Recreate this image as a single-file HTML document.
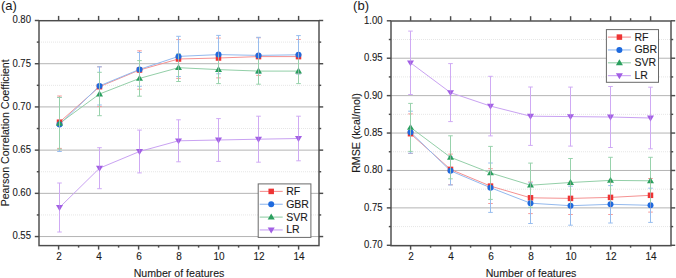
<!DOCTYPE html>
<html><head><meta charset="utf-8"><style>
html,body{margin:0;padding:0;background:#fff;}
svg{display:block;font-family:"Liberation Sans", sans-serif;}
text{fill:#1a1a1a;stroke:#1a1a1a;stroke-width:0.1px;}
</style></head><body>
<svg width="676" height="278" viewBox="0 0 676 278">
<rect width="676" height="278" fill="#fff"/>
<line x1="39" y1="214.95" x2="319" y2="214.95" stroke="#e6e6e6" stroke-width="1.0" stroke-dasharray="1 1"/>
<line x1="39" y1="171.74" x2="319" y2="171.74" stroke="#e6e6e6" stroke-width="1.0" stroke-dasharray="1 1"/>
<line x1="39" y1="128.53" x2="319" y2="128.53" stroke="#e6e6e6" stroke-width="1.0" stroke-dasharray="1 1"/>
<line x1="39" y1="85.32" x2="319" y2="85.32" stroke="#e6e6e6" stroke-width="1.0" stroke-dasharray="1 1"/>
<line x1="39" y1="42.11" x2="319" y2="42.11" stroke="#e6e6e6" stroke-width="1.0" stroke-dasharray="1 1"/>
<line x1="39" y1="236.56" x2="319" y2="236.56" stroke="#b4b4b4" stroke-width="1.0"/>
<line x1="39" y1="193.35" x2="319" y2="193.35" stroke="#b4b4b4" stroke-width="1.0"/>
<line x1="39" y1="150.13" x2="319" y2="150.13" stroke="#b4b4b4" stroke-width="1.0"/>
<line x1="39" y1="106.92" x2="319" y2="106.92" stroke="#b4b4b4" stroke-width="1.0"/>
<line x1="39" y1="63.71" x2="319" y2="63.71" stroke="#b4b4b4" stroke-width="1.0"/>
<path d="M59.50 96.00V148.40M57.20 96.00H61.80M57.20 148.40H61.80" fill="none" stroke="#f59a9a" stroke-width="1.0"/>
<path d="M99.50 66.80V106.60M97.20 66.80H101.80M97.20 106.60H101.80" fill="none" stroke="#f59a9a" stroke-width="1.0"/>
<path d="M139.50 50.80V89.20M137.20 50.80H141.80M137.20 89.20H141.80" fill="none" stroke="#f59a9a" stroke-width="1.0"/>
<path d="M178.50 39.60V78.40M176.20 39.60H180.80M176.20 78.40H180.80" fill="none" stroke="#f59a9a" stroke-width="1.0"/>
<path d="M218.50 38.10V77.90M216.20 38.10H220.80M216.20 77.90H220.80" fill="none" stroke="#f59a9a" stroke-width="1.0"/>
<path d="M258.50 37.80V75.40M256.20 37.80H260.80M256.20 75.40H260.80" fill="none" stroke="#f59a9a" stroke-width="1.0"/>
<path d="M298.50 39.50V73.70M296.20 39.50H300.80M296.20 73.70H300.80" fill="none" stroke="#f59a9a" stroke-width="1.0"/>
<path d="M59.50 97.50V151.50M57.20 97.50H61.80M57.20 151.50H61.80" fill="none" stroke="#98bdee" stroke-width="1.0"/>
<path d="M99.50 66.80V105.00M97.20 66.80H101.80M97.20 105.00H101.80" fill="none" stroke="#98bdee" stroke-width="1.0"/>
<path d="M139.50 52.50V86.30M137.20 52.50H141.80M137.20 86.30H141.80" fill="none" stroke="#98bdee" stroke-width="1.0"/>
<path d="M178.50 36.30V76.50M176.20 36.30H180.80M176.20 76.50H180.80" fill="none" stroke="#98bdee" stroke-width="1.0"/>
<path d="M218.50 35.40V73.80M216.20 35.40H220.80M216.20 73.80H220.80" fill="none" stroke="#98bdee" stroke-width="1.0"/>
<path d="M258.50 37.30V73.50M256.20 37.30H260.80M256.20 73.50H260.80" fill="none" stroke="#98bdee" stroke-width="1.0"/>
<path d="M298.50 35.60V74.00M296.20 35.60H300.80M296.20 74.00H300.80" fill="none" stroke="#98bdee" stroke-width="1.0"/>
<path d="M59.50 97.40V149.20M57.20 97.40H61.80M57.20 149.20H61.80" fill="none" stroke="#98d2ac" stroke-width="1.0"/>
<path d="M99.50 72.30V115.70M97.20 72.30H101.80M97.20 115.70H101.80" fill="none" stroke="#98d2ac" stroke-width="1.0"/>
<path d="M139.50 60.60V96.20M137.20 60.60H141.80M137.20 96.20H141.80" fill="none" stroke="#98d2ac" stroke-width="1.0"/>
<path d="M178.50 53.90V81.50M176.20 53.90H180.80M176.20 81.50H180.80" fill="none" stroke="#98d2ac" stroke-width="1.0"/>
<path d="M218.50 55.60V83.60M216.20 55.60H220.80M216.20 83.60H220.80" fill="none" stroke="#98d2ac" stroke-width="1.0"/>
<path d="M258.50 58.00V84.20M256.20 58.00H260.80M256.20 84.20H260.80" fill="none" stroke="#98d2ac" stroke-width="1.0"/>
<path d="M298.50 58.60V83.60M296.20 58.60H300.80M296.20 83.60H300.80" fill="none" stroke="#98d2ac" stroke-width="1.0"/>
<path d="M59.50 183.00V232.00M57.20 183.00H61.80M57.20 232.00H61.80" fill="none" stroke="#cfaaf4" stroke-width="1.0"/>
<path d="M99.50 147.70V188.70M97.20 147.70H101.80M97.20 188.70H101.80" fill="none" stroke="#cfaaf4" stroke-width="1.0"/>
<path d="M139.50 130.10V172.90M137.20 130.10H141.80M137.20 172.90H141.80" fill="none" stroke="#cfaaf4" stroke-width="1.0"/>
<path d="M178.50 119.80V161.80M176.20 119.80H180.80M176.20 161.80H180.80" fill="none" stroke="#cfaaf4" stroke-width="1.0"/>
<path d="M218.50 118.60V161.40M216.20 118.60H220.80M216.20 161.40H220.80" fill="none" stroke="#cfaaf4" stroke-width="1.0"/>
<path d="M258.50 116.20V162.20M256.20 116.20H260.80M256.20 162.20H260.80" fill="none" stroke="#cfaaf4" stroke-width="1.0"/>
<path d="M298.50 116.20V160.80M296.20 116.20H300.80M296.20 160.80H300.80" fill="none" stroke="#cfaaf4" stroke-width="1.0"/>
<polyline points="59.50,122.20 99.50,86.70 139.50,70.00 178.50,59.00 218.50,58.00 258.50,56.60 298.50,56.60" fill="none" stroke="#f59292" stroke-width="1.0"/>
<polyline points="59.50,124.50 99.50,85.90 139.50,69.40 178.50,56.40 218.50,54.60 258.50,55.40 298.50,54.80" fill="none" stroke="#93b9ee" stroke-width="1.0"/>
<polyline points="59.50,123.30 99.50,94.00 139.50,78.40 178.50,67.70 218.50,69.60 258.50,71.10 298.50,71.10" fill="none" stroke="#93cfa8" stroke-width="1.0"/>
<polyline points="59.50,207.50 99.50,168.20 139.50,151.50 178.50,140.80 218.50,140.00 258.50,139.20 298.50,138.50" fill="none" stroke="#c9a2f2" stroke-width="1.0"/>
<rect x="56.75" y="119.45" width="5.5" height="5.5" fill="#ee3434"/>
<rect x="96.75" y="83.95" width="5.5" height="5.5" fill="#ee3434"/>
<rect x="136.75" y="67.25" width="5.5" height="5.5" fill="#ee3434"/>
<rect x="175.75" y="56.25" width="5.5" height="5.5" fill="#ee3434"/>
<rect x="215.75" y="55.25" width="5.5" height="5.5" fill="#ee3434"/>
<rect x="255.75" y="53.85" width="5.5" height="5.5" fill="#ee3434"/>
<rect x="295.75" y="53.85" width="5.5" height="5.5" fill="#ee3434"/>
<circle cx="59.50" cy="124.50" r="3.0" fill="#1e6ade"/>
<circle cx="99.50" cy="85.90" r="3.0" fill="#1e6ade"/>
<circle cx="139.50" cy="69.40" r="3.0" fill="#1e6ade"/>
<circle cx="178.50" cy="56.40" r="3.0" fill="#1e6ade"/>
<circle cx="218.50" cy="54.60" r="3.0" fill="#1e6ade"/>
<circle cx="258.50" cy="55.40" r="3.0" fill="#1e6ade"/>
<circle cx="298.50" cy="54.80" r="3.0" fill="#1e6ade"/>
<polygon points="56.00,125.70 63.00,125.70 59.50,119.80" fill="#2a9f5e"/>
<polygon points="96.00,96.40 103.00,96.40 99.50,90.50" fill="#2a9f5e"/>
<polygon points="136.00,80.80 143.00,80.80 139.50,74.90" fill="#2a9f5e"/>
<polygon points="175.00,70.10 182.00,70.10 178.50,64.20" fill="#2a9f5e"/>
<polygon points="215.00,72.00 222.00,72.00 218.50,66.10" fill="#2a9f5e"/>
<polygon points="255.00,73.50 262.00,73.50 258.50,67.60" fill="#2a9f5e"/>
<polygon points="295.00,73.50 302.00,73.50 298.50,67.60" fill="#2a9f5e"/>
<polygon points="56.00,205.10 63.00,205.10 59.50,211.00" fill="#a25fe4"/>
<polygon points="96.00,165.80 103.00,165.80 99.50,171.70" fill="#a25fe4"/>
<polygon points="136.00,149.10 143.00,149.10 139.50,155.00" fill="#a25fe4"/>
<polygon points="175.00,138.40 182.00,138.40 178.50,144.30" fill="#a25fe4"/>
<polygon points="215.00,137.60 222.00,137.60 218.50,143.50" fill="#a25fe4"/>
<polygon points="255.00,136.80 262.00,136.80 258.50,142.70" fill="#a25fe4"/>
<polygon points="295.00,136.10 302.00,136.10 298.50,142.00" fill="#a25fe4"/>
<path d="M59.50 118.60V125.80" stroke="#f59a9a" stroke-width="1.0" opacity="0.35"/>
<path d="M59.50 120.90V128.10" stroke="#f59a9a" stroke-width="1.0" opacity="0.35"/>
<path d="M59.50 119.70V126.90" stroke="#f59a9a" stroke-width="1.0" opacity="0.35"/>
<path d="M99.50 83.10V90.30" stroke="#f59a9a" stroke-width="1.0" opacity="0.35"/>
<path d="M99.50 82.30V89.50" stroke="#f59a9a" stroke-width="1.0" opacity="0.35"/>
<path d="M99.50 90.40V97.60" stroke="#f59a9a" stroke-width="1.0" opacity="0.35"/>
<path d="M139.50 66.40V73.60" stroke="#f59a9a" stroke-width="1.0" opacity="0.35"/>
<path d="M139.50 65.80V73.00" stroke="#f59a9a" stroke-width="1.0" opacity="0.35"/>
<path d="M139.50 74.80V82.00" stroke="#f59a9a" stroke-width="1.0" opacity="0.35"/>
<path d="M178.50 55.40V62.60" stroke="#f59a9a" stroke-width="1.0" opacity="0.35"/>
<path d="M178.50 52.80V60.00" stroke="#f59a9a" stroke-width="1.0" opacity="0.35"/>
<path d="M178.50 64.10V71.30" stroke="#f59a9a" stroke-width="1.0" opacity="0.35"/>
<path d="M218.50 54.40V61.60" stroke="#f59a9a" stroke-width="1.0" opacity="0.35"/>
<path d="M218.50 51.00V58.20" stroke="#f59a9a" stroke-width="1.0" opacity="0.35"/>
<path d="M218.50 66.00V73.20" stroke="#f59a9a" stroke-width="1.0" opacity="0.35"/>
<path d="M258.50 53.00V60.20" stroke="#f59a9a" stroke-width="1.0" opacity="0.35"/>
<path d="M258.50 51.80V59.00" stroke="#f59a9a" stroke-width="1.0" opacity="0.35"/>
<path d="M258.50 67.50V74.70" stroke="#f59a9a" stroke-width="1.0" opacity="0.35"/>
<path d="M298.50 53.00V60.20" stroke="#f59a9a" stroke-width="1.0" opacity="0.35"/>
<path d="M298.50 51.20V58.40" stroke="#f59a9a" stroke-width="1.0" opacity="0.35"/>
<path d="M298.50 67.50V73.70" stroke="#f59a9a" stroke-width="1.0" opacity="0.35"/>
<path d="M59.50 118.60V125.80" stroke="#98bdee" stroke-width="1.0" opacity="0.35"/>
<path d="M59.50 120.90V128.10" stroke="#98bdee" stroke-width="1.0" opacity="0.35"/>
<path d="M59.50 119.70V126.90" stroke="#98bdee" stroke-width="1.0" opacity="0.35"/>
<path d="M99.50 83.10V90.30" stroke="#98bdee" stroke-width="1.0" opacity="0.35"/>
<path d="M99.50 82.30V89.50" stroke="#98bdee" stroke-width="1.0" opacity="0.35"/>
<path d="M99.50 90.40V97.60" stroke="#98bdee" stroke-width="1.0" opacity="0.35"/>
<path d="M139.50 66.40V73.60" stroke="#98bdee" stroke-width="1.0" opacity="0.35"/>
<path d="M139.50 65.80V73.00" stroke="#98bdee" stroke-width="1.0" opacity="0.35"/>
<path d="M139.50 74.80V82.00" stroke="#98bdee" stroke-width="1.0" opacity="0.35"/>
<path d="M178.50 55.40V62.60" stroke="#98bdee" stroke-width="1.0" opacity="0.35"/>
<path d="M178.50 52.80V60.00" stroke="#98bdee" stroke-width="1.0" opacity="0.35"/>
<path d="M178.50 64.10V71.30" stroke="#98bdee" stroke-width="1.0" opacity="0.35"/>
<path d="M218.50 54.40V61.60" stroke="#98bdee" stroke-width="1.0" opacity="0.35"/>
<path d="M218.50 51.00V58.20" stroke="#98bdee" stroke-width="1.0" opacity="0.35"/>
<path d="M218.50 66.00V73.20" stroke="#98bdee" stroke-width="1.0" opacity="0.35"/>
<path d="M258.50 53.00V60.20" stroke="#98bdee" stroke-width="1.0" opacity="0.35"/>
<path d="M258.50 51.80V59.00" stroke="#98bdee" stroke-width="1.0" opacity="0.35"/>
<path d="M258.50 67.50V73.50" stroke="#98bdee" stroke-width="1.0" opacity="0.35"/>
<path d="M298.50 53.00V60.20" stroke="#98bdee" stroke-width="1.0" opacity="0.35"/>
<path d="M298.50 51.20V58.40" stroke="#98bdee" stroke-width="1.0" opacity="0.35"/>
<path d="M298.50 67.50V74.00" stroke="#98bdee" stroke-width="1.0" opacity="0.35"/>
<path d="M59.50 118.60V125.80" stroke="#98d2ac" stroke-width="1.0" opacity="0.35"/>
<path d="M59.50 120.90V128.10" stroke="#98d2ac" stroke-width="1.0" opacity="0.35"/>
<path d="M59.50 119.70V126.90" stroke="#98d2ac" stroke-width="1.0" opacity="0.35"/>
<path d="M99.50 83.10V90.30" stroke="#98d2ac" stroke-width="1.0" opacity="0.35"/>
<path d="M99.50 82.30V89.50" stroke="#98d2ac" stroke-width="1.0" opacity="0.35"/>
<path d="M99.50 90.40V97.60" stroke="#98d2ac" stroke-width="1.0" opacity="0.35"/>
<path d="M139.50 66.40V73.60" stroke="#98d2ac" stroke-width="1.0" opacity="0.35"/>
<path d="M139.50 65.80V73.00" stroke="#98d2ac" stroke-width="1.0" opacity="0.35"/>
<path d="M139.50 74.80V82.00" stroke="#98d2ac" stroke-width="1.0" opacity="0.35"/>
<path d="M178.50 55.40V62.60" stroke="#98d2ac" stroke-width="1.0" opacity="0.35"/>
<path d="M178.50 53.90V60.00" stroke="#98d2ac" stroke-width="1.0" opacity="0.35"/>
<path d="M178.50 64.10V71.30" stroke="#98d2ac" stroke-width="1.0" opacity="0.35"/>
<path d="M218.50 55.60V61.60" stroke="#98d2ac" stroke-width="1.0" opacity="0.35"/>
<path d="M218.50 55.60V58.20" stroke="#98d2ac" stroke-width="1.0" opacity="0.35"/>
<path d="M218.50 66.00V73.20" stroke="#98d2ac" stroke-width="1.0" opacity="0.35"/>
<path d="M258.50 58.00V60.20" stroke="#98d2ac" stroke-width="1.0" opacity="0.35"/>
<path d="M258.50 58.00V59.00" stroke="#98d2ac" stroke-width="1.0" opacity="0.35"/>
<path d="M258.50 67.50V74.70" stroke="#98d2ac" stroke-width="1.0" opacity="0.35"/>
<path d="M298.50 58.60V60.20" stroke="#98d2ac" stroke-width="1.0" opacity="0.35"/>
<path d="M298.50 67.50V74.70" stroke="#98d2ac" stroke-width="1.0" opacity="0.35"/>
<path d="M59.50 203.90V211.10" stroke="#cfaaf4" stroke-width="1.0" opacity="0.35"/>
<path d="M99.50 164.60V171.80" stroke="#cfaaf4" stroke-width="1.0" opacity="0.35"/>
<path d="M139.50 147.90V155.10" stroke="#cfaaf4" stroke-width="1.0" opacity="0.35"/>
<path d="M178.50 137.20V144.40" stroke="#cfaaf4" stroke-width="1.0" opacity="0.35"/>
<path d="M218.50 136.40V143.60" stroke="#cfaaf4" stroke-width="1.0" opacity="0.35"/>
<path d="M258.50 135.60V142.80" stroke="#cfaaf4" stroke-width="1.0" opacity="0.35"/>
<path d="M298.50 134.90V142.10" stroke="#cfaaf4" stroke-width="1.0" opacity="0.35"/>
<rect x="39" y="20.70" width="280" height="224.90" fill="none" stroke="#4c4c4c" stroke-width="1.45"/>
<line x1="58.60" y1="245.6" x2="58.60" y2="249.6" stroke="#4c4c4c" stroke-width="1.45"/>
<line x1="58.60" y1="20.5" x2="58.60" y2="15.90" stroke="#4c4c4c" stroke-width="1.45"/>
<line x1="78.60" y1="245.6" x2="78.60" y2="247.6" stroke="#4c4c4c" stroke-width="1.45"/>
<line x1="78.60" y1="20.5" x2="78.60" y2="17.90" stroke="#4c4c4c" stroke-width="1.45"/>
<line x1="98.60" y1="245.6" x2="98.60" y2="249.6" stroke="#4c4c4c" stroke-width="1.45"/>
<line x1="98.60" y1="20.5" x2="98.60" y2="15.90" stroke="#4c4c4c" stroke-width="1.45"/>
<line x1="118.60" y1="245.6" x2="118.60" y2="247.6" stroke="#4c4c4c" stroke-width="1.45"/>
<line x1="118.60" y1="20.5" x2="118.60" y2="17.90" stroke="#4c4c4c" stroke-width="1.45"/>
<line x1="138.60" y1="245.6" x2="138.60" y2="249.6" stroke="#4c4c4c" stroke-width="1.45"/>
<line x1="138.60" y1="20.5" x2="138.60" y2="15.90" stroke="#4c4c4c" stroke-width="1.45"/>
<line x1="158.60" y1="245.6" x2="158.60" y2="247.6" stroke="#4c4c4c" stroke-width="1.45"/>
<line x1="158.60" y1="20.5" x2="158.60" y2="17.90" stroke="#4c4c4c" stroke-width="1.45"/>
<line x1="178.60" y1="245.6" x2="178.60" y2="249.6" stroke="#4c4c4c" stroke-width="1.45"/>
<line x1="178.60" y1="20.5" x2="178.60" y2="15.90" stroke="#4c4c4c" stroke-width="1.45"/>
<line x1="198.60" y1="245.6" x2="198.60" y2="247.6" stroke="#4c4c4c" stroke-width="1.45"/>
<line x1="198.60" y1="20.5" x2="198.60" y2="17.90" stroke="#4c4c4c" stroke-width="1.45"/>
<line x1="218.60" y1="245.6" x2="218.60" y2="249.6" stroke="#4c4c4c" stroke-width="1.45"/>
<line x1="218.60" y1="20.5" x2="218.60" y2="15.90" stroke="#4c4c4c" stroke-width="1.45"/>
<line x1="238.60" y1="245.6" x2="238.60" y2="247.6" stroke="#4c4c4c" stroke-width="1.45"/>
<line x1="238.60" y1="20.5" x2="238.60" y2="17.90" stroke="#4c4c4c" stroke-width="1.45"/>
<line x1="258.60" y1="245.6" x2="258.60" y2="249.6" stroke="#4c4c4c" stroke-width="1.45"/>
<line x1="258.60" y1="20.5" x2="258.60" y2="15.90" stroke="#4c4c4c" stroke-width="1.45"/>
<line x1="278.60" y1="245.6" x2="278.60" y2="247.6" stroke="#4c4c4c" stroke-width="1.45"/>
<line x1="278.60" y1="20.5" x2="278.60" y2="17.90" stroke="#4c4c4c" stroke-width="1.45"/>
<line x1="298.60" y1="245.6" x2="298.60" y2="249.6" stroke="#4c4c4c" stroke-width="1.45"/>
<line x1="298.60" y1="20.5" x2="298.60" y2="15.90" stroke="#4c4c4c" stroke-width="1.45"/>
<line x1="34.8" y1="236.56" x2="39" y2="236.56" stroke="#4c4c4c" stroke-width="1.45"/>
<line x1="319" y1="236.56" x2="323.2" y2="236.56" stroke="#4c4c4c" stroke-width="1.45"/>
<line x1="34.8" y1="193.35" x2="39" y2="193.35" stroke="#4c4c4c" stroke-width="1.45"/>
<line x1="319" y1="193.35" x2="323.2" y2="193.35" stroke="#4c4c4c" stroke-width="1.45"/>
<line x1="34.8" y1="150.13" x2="39" y2="150.13" stroke="#4c4c4c" stroke-width="1.45"/>
<line x1="319" y1="150.13" x2="323.2" y2="150.13" stroke="#4c4c4c" stroke-width="1.45"/>
<line x1="34.8" y1="106.92" x2="39" y2="106.92" stroke="#4c4c4c" stroke-width="1.45"/>
<line x1="319" y1="106.92" x2="323.2" y2="106.92" stroke="#4c4c4c" stroke-width="1.45"/>
<line x1="34.8" y1="63.71" x2="39" y2="63.71" stroke="#4c4c4c" stroke-width="1.45"/>
<line x1="319" y1="63.71" x2="323.2" y2="63.71" stroke="#4c4c4c" stroke-width="1.45"/>
<line x1="34.8" y1="20.50" x2="39" y2="20.50" stroke="#4c4c4c" stroke-width="1.45"/>
<line x1="319" y1="20.50" x2="323.2" y2="20.50" stroke="#4c4c4c" stroke-width="1.45"/>
<line x1="36.8" y1="214.95" x2="39" y2="214.95" stroke="#4c4c4c" stroke-width="1.45"/>
<line x1="319" y1="214.95" x2="321.2" y2="214.95" stroke="#4c4c4c" stroke-width="1.45"/>
<line x1="36.8" y1="171.74" x2="39" y2="171.74" stroke="#4c4c4c" stroke-width="1.45"/>
<line x1="319" y1="171.74" x2="321.2" y2="171.74" stroke="#4c4c4c" stroke-width="1.45"/>
<line x1="36.8" y1="128.53" x2="39" y2="128.53" stroke="#4c4c4c" stroke-width="1.45"/>
<line x1="319" y1="128.53" x2="321.2" y2="128.53" stroke="#4c4c4c" stroke-width="1.45"/>
<line x1="36.8" y1="85.32" x2="39" y2="85.32" stroke="#4c4c4c" stroke-width="1.45"/>
<line x1="319" y1="85.32" x2="321.2" y2="85.32" stroke="#4c4c4c" stroke-width="1.45"/>
<line x1="36.8" y1="42.11" x2="39" y2="42.11" stroke="#4c4c4c" stroke-width="1.45"/>
<line x1="319" y1="42.11" x2="321.2" y2="42.11" stroke="#4c4c4c" stroke-width="1.45"/>
<text x="31.0" y="239.46" text-anchor="end" font-size="10" textLength="18.6" lengthAdjust="spacingAndGlyphs">0.55</text>
<text x="31.0" y="196.25" text-anchor="end" font-size="10" textLength="18.6" lengthAdjust="spacingAndGlyphs">0.60</text>
<text x="31.0" y="153.03" text-anchor="end" font-size="10" textLength="18.6" lengthAdjust="spacingAndGlyphs">0.65</text>
<text x="31.0" y="109.82" text-anchor="end" font-size="10" textLength="18.6" lengthAdjust="spacingAndGlyphs">0.70</text>
<text x="31.0" y="66.61" text-anchor="end" font-size="10" textLength="18.6" lengthAdjust="spacingAndGlyphs">0.75</text>
<text x="31.0" y="23.40" text-anchor="end" font-size="10" textLength="18.6" lengthAdjust="spacingAndGlyphs">0.80</text>
<text x="59.00" y="260.2" text-anchor="middle" font-size="10">2</text>
<text x="99.00" y="260.2" text-anchor="middle" font-size="10">4</text>
<text x="139.00" y="260.2" text-anchor="middle" font-size="10">6</text>
<text x="179.00" y="260.2" text-anchor="middle" font-size="10">8</text>
<text x="219.00" y="260.2" text-anchor="middle" font-size="10">10</text>
<text x="259.00" y="260.2" text-anchor="middle" font-size="10">12</text>
<text x="299.00" y="260.2" text-anchor="middle" font-size="10">14</text>
<text x="179.00" y="277.1" text-anchor="middle" font-size="10.6">Number of features</text>
<text transform="translate(8.8,132.85) rotate(-90)" x="0" y="0" text-anchor="middle" font-size="10.6">Pearson Correlation Coefficient</text>
<text x="0.9" y="9.7" font-size="13.0" style="stroke-width:0">(a)</text>
<rect x="258.2" y="183.9" width="52.7" height="53.5" fill="#fff" stroke="#6a6a6a" stroke-width="1"/>
<line x1="259.7" y1="191.40" x2="282.7" y2="191.40" stroke="#f59292" stroke-width="1.1"/>
<rect x="268.45" y="188.65" width="5.5" height="5.5" fill="#ee3434"/>
<text x="286.2" y="194.90" font-size="10.5">RF</text>
<line x1="259.7" y1="204.25" x2="282.7" y2="204.25" stroke="#93b9ee" stroke-width="1.1"/>
<circle cx="271.20" cy="204.25" r="3.0" fill="#1e6ade"/>
<text x="286.2" y="207.75" font-size="10.5">GBR</text>
<line x1="259.7" y1="217.10" x2="282.7" y2="217.10" stroke="#93cfa8" stroke-width="1.1"/>
<polygon points="267.70,219.50 274.70,219.50 271.20,213.60" fill="#2a9f5e"/>
<text x="286.2" y="220.60" font-size="10.5">SVR</text>
<line x1="259.7" y1="229.95" x2="282.7" y2="229.95" stroke="#c9a2f2" stroke-width="1.1"/>
<polygon points="267.70,227.55 274.70,227.55 271.20,233.45" fill="#a25fe4"/>
<text x="286.2" y="233.45" font-size="10.5">LR</text>
<line x1="391" y1="226.59" x2="671" y2="226.59" stroke="#e6e6e6" stroke-width="1.0" stroke-dasharray="1 1"/>
<line x1="391" y1="189.17" x2="671" y2="189.17" stroke="#e6e6e6" stroke-width="1.0" stroke-dasharray="1 1"/>
<line x1="391" y1="151.76" x2="671" y2="151.76" stroke="#e6e6e6" stroke-width="1.0" stroke-dasharray="1 1"/>
<line x1="391" y1="114.34" x2="671" y2="114.34" stroke="#e6e6e6" stroke-width="1.0" stroke-dasharray="1 1"/>
<line x1="391" y1="76.92" x2="671" y2="76.92" stroke="#e6e6e6" stroke-width="1.0" stroke-dasharray="1 1"/>
<line x1="391" y1="39.51" x2="671" y2="39.51" stroke="#e6e6e6" stroke-width="1.0" stroke-dasharray="1 1"/>
<line x1="391" y1="245.30" x2="671" y2="245.30" stroke="#b4b4b4" stroke-width="1.0"/>
<line x1="391" y1="207.88" x2="671" y2="207.88" stroke="#b4b4b4" stroke-width="1.0"/>
<line x1="391" y1="170.47" x2="671" y2="170.47" stroke="#b4b4b4" stroke-width="1.0"/>
<line x1="391" y1="133.05" x2="671" y2="133.05" stroke="#b4b4b4" stroke-width="1.0"/>
<line x1="391" y1="95.63" x2="671" y2="95.63" stroke="#b4b4b4" stroke-width="1.0"/>
<line x1="391" y1="58.22" x2="671" y2="58.22" stroke="#b4b4b4" stroke-width="1.0"/>
<path d="M410.50 113.90V153.50M408.20 113.90H412.80M408.20 153.50H412.80" fill="none" stroke="#f59a9a" stroke-width="1.0"/>
<path d="M450.50 154.10V184.70M448.20 154.10H452.80M448.20 184.70H452.80" fill="none" stroke="#f59a9a" stroke-width="1.0"/>
<path d="M490.50 168.70V203.50M488.20 168.70H492.80M488.20 203.50H492.80" fill="none" stroke="#f59a9a" stroke-width="1.0"/>
<path d="M530.50 182.00V213.60M528.20 182.00H532.80M528.20 213.60H532.80" fill="none" stroke="#f59a9a" stroke-width="1.0"/>
<path d="M570.50 182.30V214.50M568.20 182.30H572.80M568.20 214.50H572.80" fill="none" stroke="#f59a9a" stroke-width="1.0"/>
<path d="M610.50 180.30V214.50M608.20 180.30H612.80M608.20 214.50H612.80" fill="none" stroke="#f59a9a" stroke-width="1.0"/>
<path d="M650.50 178.50V212.10M648.20 178.50H652.80M648.20 212.10H652.80" fill="none" stroke="#f59a9a" stroke-width="1.0"/>
<path d="M410.50 111.20V153.20M408.20 111.20H412.80M408.20 153.20H412.80" fill="none" stroke="#98bdee" stroke-width="1.0"/>
<path d="M450.50 156.60V185.00M448.20 156.60H452.80M448.20 185.00H452.80" fill="none" stroke="#98bdee" stroke-width="1.0"/>
<path d="M490.50 163.00V212.40M488.20 163.00H492.80M488.20 212.40H492.80" fill="none" stroke="#98bdee" stroke-width="1.0"/>
<path d="M530.50 182.90V223.50M528.20 182.90H532.80M528.20 223.50H532.80" fill="none" stroke="#98bdee" stroke-width="1.0"/>
<path d="M570.50 186.20V225.20M568.20 186.20H572.80M568.20 225.20H572.80" fill="none" stroke="#98bdee" stroke-width="1.0"/>
<path d="M610.50 185.60V223.00M608.20 185.60H612.80M608.20 223.00H612.80" fill="none" stroke="#98bdee" stroke-width="1.0"/>
<path d="M650.50 188.20V222.40M648.20 188.20H652.80M648.20 222.40H652.80" fill="none" stroke="#98bdee" stroke-width="1.0"/>
<path d="M410.50 103.40V151.40M408.20 103.40H412.80M408.20 151.40H412.80" fill="none" stroke="#98d2ac" stroke-width="1.0"/>
<path d="M450.50 135.80V178.80M448.20 135.80H452.80M448.20 178.80H452.80" fill="none" stroke="#98d2ac" stroke-width="1.0"/>
<path d="M490.50 146.40V199.40M488.20 146.40H492.80M488.20 199.40H492.80" fill="none" stroke="#98d2ac" stroke-width="1.0"/>
<path d="M530.50 163.10V207.30M528.20 163.10H532.80M528.20 207.30H532.80" fill="none" stroke="#98d2ac" stroke-width="1.0"/>
<path d="M570.50 158.50V206.50M568.20 158.50H572.80M568.20 206.50H572.80" fill="none" stroke="#98d2ac" stroke-width="1.0"/>
<path d="M610.50 157.30V203.50M608.20 157.30H612.80M608.20 203.50H612.80" fill="none" stroke="#98d2ac" stroke-width="1.0"/>
<path d="M650.50 157.30V204.30M648.20 157.30H652.80M648.20 204.30H652.80" fill="none" stroke="#98d2ac" stroke-width="1.0"/>
<path d="M410.50 31.10V94.50M408.20 31.10H412.80M408.20 94.50H412.80" fill="none" stroke="#cfaaf4" stroke-width="1.0"/>
<path d="M450.50 63.60V121.60M448.20 63.60H452.80M448.20 121.60H452.80" fill="none" stroke="#cfaaf4" stroke-width="1.0"/>
<path d="M490.50 76.30V135.90M488.20 76.30H492.80M488.20 135.90H492.80" fill="none" stroke="#cfaaf4" stroke-width="1.0"/>
<path d="M530.50 87.00V145.40M528.20 87.00H532.80M528.20 145.40H532.80" fill="none" stroke="#cfaaf4" stroke-width="1.0"/>
<path d="M570.50 87.10V146.10M568.20 87.10H572.80M568.20 146.10H572.80" fill="none" stroke="#cfaaf4" stroke-width="1.0"/>
<path d="M610.50 86.50V147.50M608.20 86.50H612.80M608.20 147.50H612.80" fill="none" stroke="#cfaaf4" stroke-width="1.0"/>
<path d="M650.50 87.20V148.80M648.20 87.20H652.80M648.20 148.80H652.80" fill="none" stroke="#cfaaf4" stroke-width="1.0"/>
<polyline points="410.50,133.70 450.50,169.40 490.50,186.10 530.50,197.80 570.50,198.40 610.50,197.40 650.50,195.30" fill="none" stroke="#f59292" stroke-width="1.0"/>
<polyline points="410.50,132.20 450.50,170.80 490.50,187.70 530.50,203.20 570.50,205.70 610.50,204.30 650.50,205.30" fill="none" stroke="#93b9ee" stroke-width="1.0"/>
<polyline points="410.50,127.40 450.50,157.30 490.50,172.90 530.50,185.20 570.50,182.50 610.50,180.40 650.50,180.80" fill="none" stroke="#93cfa8" stroke-width="1.0"/>
<polyline points="410.50,62.80 450.50,92.60 490.50,106.10 530.50,116.20 570.50,116.60 610.50,117.00 650.50,118.00" fill="none" stroke="#c9a2f2" stroke-width="1.0"/>
<rect x="407.75" y="130.95" width="5.5" height="5.5" fill="#ee3434"/>
<rect x="447.75" y="166.65" width="5.5" height="5.5" fill="#ee3434"/>
<rect x="487.75" y="183.35" width="5.5" height="5.5" fill="#ee3434"/>
<rect x="527.75" y="195.05" width="5.5" height="5.5" fill="#ee3434"/>
<rect x="567.75" y="195.65" width="5.5" height="5.5" fill="#ee3434"/>
<rect x="607.75" y="194.65" width="5.5" height="5.5" fill="#ee3434"/>
<rect x="647.75" y="192.55" width="5.5" height="5.5" fill="#ee3434"/>
<circle cx="410.50" cy="132.20" r="3.0" fill="#1e6ade"/>
<circle cx="450.50" cy="170.80" r="3.0" fill="#1e6ade"/>
<circle cx="490.50" cy="187.70" r="3.0" fill="#1e6ade"/>
<circle cx="530.50" cy="203.20" r="3.0" fill="#1e6ade"/>
<circle cx="570.50" cy="205.70" r="3.0" fill="#1e6ade"/>
<circle cx="610.50" cy="204.30" r="3.0" fill="#1e6ade"/>
<circle cx="650.50" cy="205.30" r="3.0" fill="#1e6ade"/>
<polygon points="407.00,129.80 414.00,129.80 410.50,123.90" fill="#2a9f5e"/>
<polygon points="447.00,159.70 454.00,159.70 450.50,153.80" fill="#2a9f5e"/>
<polygon points="487.00,175.30 494.00,175.30 490.50,169.40" fill="#2a9f5e"/>
<polygon points="527.00,187.60 534.00,187.60 530.50,181.70" fill="#2a9f5e"/>
<polygon points="567.00,184.90 574.00,184.90 570.50,179.00" fill="#2a9f5e"/>
<polygon points="607.00,182.80 614.00,182.80 610.50,176.90" fill="#2a9f5e"/>
<polygon points="647.00,183.20 654.00,183.20 650.50,177.30" fill="#2a9f5e"/>
<polygon points="407.00,60.40 414.00,60.40 410.50,66.30" fill="#a25fe4"/>
<polygon points="447.00,90.20 454.00,90.20 450.50,96.10" fill="#a25fe4"/>
<polygon points="487.00,103.70 494.00,103.70 490.50,109.60" fill="#a25fe4"/>
<polygon points="527.00,113.80 534.00,113.80 530.50,119.70" fill="#a25fe4"/>
<polygon points="567.00,114.20 574.00,114.20 570.50,120.10" fill="#a25fe4"/>
<polygon points="607.00,114.60 614.00,114.60 610.50,120.50" fill="#a25fe4"/>
<polygon points="647.00,115.60 654.00,115.60 650.50,121.50" fill="#a25fe4"/>
<path d="M410.50 130.10V137.30" stroke="#f59a9a" stroke-width="1.0" opacity="0.35"/>
<path d="M410.50 128.60V135.80" stroke="#f59a9a" stroke-width="1.0" opacity="0.35"/>
<path d="M410.50 123.80V131.00" stroke="#f59a9a" stroke-width="1.0" opacity="0.35"/>
<path d="M450.50 165.80V173.00" stroke="#f59a9a" stroke-width="1.0" opacity="0.35"/>
<path d="M450.50 167.20V174.40" stroke="#f59a9a" stroke-width="1.0" opacity="0.35"/>
<path d="M450.50 154.10V160.90" stroke="#f59a9a" stroke-width="1.0" opacity="0.35"/>
<path d="M490.50 182.50V189.70" stroke="#f59a9a" stroke-width="1.0" opacity="0.35"/>
<path d="M490.50 184.10V191.30" stroke="#f59a9a" stroke-width="1.0" opacity="0.35"/>
<path d="M490.50 169.30V176.50" stroke="#f59a9a" stroke-width="1.0" opacity="0.35"/>
<path d="M530.50 194.20V201.40" stroke="#f59a9a" stroke-width="1.0" opacity="0.35"/>
<path d="M530.50 199.60V206.80" stroke="#f59a9a" stroke-width="1.0" opacity="0.35"/>
<path d="M530.50 182.00V188.80" stroke="#f59a9a" stroke-width="1.0" opacity="0.35"/>
<path d="M570.50 194.80V202.00" stroke="#f59a9a" stroke-width="1.0" opacity="0.35"/>
<path d="M570.50 202.10V209.30" stroke="#f59a9a" stroke-width="1.0" opacity="0.35"/>
<path d="M570.50 182.30V186.10" stroke="#f59a9a" stroke-width="1.0" opacity="0.35"/>
<path d="M610.50 193.80V201.00" stroke="#f59a9a" stroke-width="1.0" opacity="0.35"/>
<path d="M610.50 200.70V207.90" stroke="#f59a9a" stroke-width="1.0" opacity="0.35"/>
<path d="M610.50 180.30V184.00" stroke="#f59a9a" stroke-width="1.0" opacity="0.35"/>
<path d="M650.50 191.70V198.90" stroke="#f59a9a" stroke-width="1.0" opacity="0.35"/>
<path d="M650.50 201.70V208.90" stroke="#f59a9a" stroke-width="1.0" opacity="0.35"/>
<path d="M650.50 178.50V184.40" stroke="#f59a9a" stroke-width="1.0" opacity="0.35"/>
<path d="M410.50 130.10V137.30" stroke="#98bdee" stroke-width="1.0" opacity="0.35"/>
<path d="M410.50 128.60V135.80" stroke="#98bdee" stroke-width="1.0" opacity="0.35"/>
<path d="M410.50 123.80V131.00" stroke="#98bdee" stroke-width="1.0" opacity="0.35"/>
<path d="M450.50 165.80V173.00" stroke="#98bdee" stroke-width="1.0" opacity="0.35"/>
<path d="M450.50 167.20V174.40" stroke="#98bdee" stroke-width="1.0" opacity="0.35"/>
<path d="M450.50 156.60V160.90" stroke="#98bdee" stroke-width="1.0" opacity="0.35"/>
<path d="M490.50 182.50V189.70" stroke="#98bdee" stroke-width="1.0" opacity="0.35"/>
<path d="M490.50 184.10V191.30" stroke="#98bdee" stroke-width="1.0" opacity="0.35"/>
<path d="M490.50 169.30V176.50" stroke="#98bdee" stroke-width="1.0" opacity="0.35"/>
<path d="M530.50 194.20V201.40" stroke="#98bdee" stroke-width="1.0" opacity="0.35"/>
<path d="M530.50 199.60V206.80" stroke="#98bdee" stroke-width="1.0" opacity="0.35"/>
<path d="M530.50 182.90V188.80" stroke="#98bdee" stroke-width="1.0" opacity="0.35"/>
<path d="M570.50 194.80V202.00" stroke="#98bdee" stroke-width="1.0" opacity="0.35"/>
<path d="M570.50 202.10V209.30" stroke="#98bdee" stroke-width="1.0" opacity="0.35"/>
<path d="M610.50 193.80V201.00" stroke="#98bdee" stroke-width="1.0" opacity="0.35"/>
<path d="M610.50 200.70V207.90" stroke="#98bdee" stroke-width="1.0" opacity="0.35"/>
<path d="M650.50 191.70V198.90" stroke="#98bdee" stroke-width="1.0" opacity="0.35"/>
<path d="M650.50 201.70V208.90" stroke="#98bdee" stroke-width="1.0" opacity="0.35"/>
<path d="M410.50 130.10V137.30" stroke="#98d2ac" stroke-width="1.0" opacity="0.35"/>
<path d="M410.50 128.60V135.80" stroke="#98d2ac" stroke-width="1.0" opacity="0.35"/>
<path d="M410.50 123.80V131.00" stroke="#98d2ac" stroke-width="1.0" opacity="0.35"/>
<path d="M450.50 165.80V173.00" stroke="#98d2ac" stroke-width="1.0" opacity="0.35"/>
<path d="M450.50 167.20V174.40" stroke="#98d2ac" stroke-width="1.0" opacity="0.35"/>
<path d="M450.50 153.70V160.90" stroke="#98d2ac" stroke-width="1.0" opacity="0.35"/>
<path d="M490.50 182.50V189.70" stroke="#98d2ac" stroke-width="1.0" opacity="0.35"/>
<path d="M490.50 184.10V191.30" stroke="#98d2ac" stroke-width="1.0" opacity="0.35"/>
<path d="M490.50 169.30V176.50" stroke="#98d2ac" stroke-width="1.0" opacity="0.35"/>
<path d="M530.50 194.20V201.40" stroke="#98d2ac" stroke-width="1.0" opacity="0.35"/>
<path d="M530.50 199.60V206.80" stroke="#98d2ac" stroke-width="1.0" opacity="0.35"/>
<path d="M530.50 181.60V188.80" stroke="#98d2ac" stroke-width="1.0" opacity="0.35"/>
<path d="M570.50 194.80V202.00" stroke="#98d2ac" stroke-width="1.0" opacity="0.35"/>
<path d="M570.50 202.10V206.50" stroke="#98d2ac" stroke-width="1.0" opacity="0.35"/>
<path d="M570.50 178.90V186.10" stroke="#98d2ac" stroke-width="1.0" opacity="0.35"/>
<path d="M610.50 193.80V201.00" stroke="#98d2ac" stroke-width="1.0" opacity="0.35"/>
<path d="M610.50 200.70V203.50" stroke="#98d2ac" stroke-width="1.0" opacity="0.35"/>
<path d="M610.50 176.80V184.00" stroke="#98d2ac" stroke-width="1.0" opacity="0.35"/>
<path d="M650.50 191.70V198.90" stroke="#98d2ac" stroke-width="1.0" opacity="0.35"/>
<path d="M650.50 201.70V204.30" stroke="#98d2ac" stroke-width="1.0" opacity="0.35"/>
<path d="M650.50 177.20V184.40" stroke="#98d2ac" stroke-width="1.0" opacity="0.35"/>
<path d="M410.50 59.20V66.40" stroke="#cfaaf4" stroke-width="1.0" opacity="0.35"/>
<path d="M450.50 89.00V96.20" stroke="#cfaaf4" stroke-width="1.0" opacity="0.35"/>
<path d="M490.50 102.50V109.70" stroke="#cfaaf4" stroke-width="1.0" opacity="0.35"/>
<path d="M530.50 112.60V119.80" stroke="#cfaaf4" stroke-width="1.0" opacity="0.35"/>
<path d="M570.50 113.00V120.20" stroke="#cfaaf4" stroke-width="1.0" opacity="0.35"/>
<path d="M610.50 113.40V120.60" stroke="#cfaaf4" stroke-width="1.0" opacity="0.35"/>
<path d="M650.50 114.40V121.60" stroke="#cfaaf4" stroke-width="1.0" opacity="0.35"/>
<rect x="391" y="21.00" width="280" height="224.70" fill="none" stroke="#4c4c4c" stroke-width="1.45"/>
<line x1="410.60" y1="245.70000000000002" x2="410.60" y2="249.70000000000002" stroke="#4c4c4c" stroke-width="1.45"/>
<line x1="410.60" y1="20.8" x2="410.60" y2="16.20" stroke="#4c4c4c" stroke-width="1.45"/>
<line x1="430.60" y1="245.70000000000002" x2="430.60" y2="247.70000000000002" stroke="#4c4c4c" stroke-width="1.45"/>
<line x1="430.60" y1="20.8" x2="430.60" y2="18.20" stroke="#4c4c4c" stroke-width="1.45"/>
<line x1="450.60" y1="245.70000000000002" x2="450.60" y2="249.70000000000002" stroke="#4c4c4c" stroke-width="1.45"/>
<line x1="450.60" y1="20.8" x2="450.60" y2="16.20" stroke="#4c4c4c" stroke-width="1.45"/>
<line x1="470.60" y1="245.70000000000002" x2="470.60" y2="247.70000000000002" stroke="#4c4c4c" stroke-width="1.45"/>
<line x1="470.60" y1="20.8" x2="470.60" y2="18.20" stroke="#4c4c4c" stroke-width="1.45"/>
<line x1="490.60" y1="245.70000000000002" x2="490.60" y2="249.70000000000002" stroke="#4c4c4c" stroke-width="1.45"/>
<line x1="490.60" y1="20.8" x2="490.60" y2="16.20" stroke="#4c4c4c" stroke-width="1.45"/>
<line x1="510.60" y1="245.70000000000002" x2="510.60" y2="247.70000000000002" stroke="#4c4c4c" stroke-width="1.45"/>
<line x1="510.60" y1="20.8" x2="510.60" y2="18.20" stroke="#4c4c4c" stroke-width="1.45"/>
<line x1="530.60" y1="245.70000000000002" x2="530.60" y2="249.70000000000002" stroke="#4c4c4c" stroke-width="1.45"/>
<line x1="530.60" y1="20.8" x2="530.60" y2="16.20" stroke="#4c4c4c" stroke-width="1.45"/>
<line x1="550.60" y1="245.70000000000002" x2="550.60" y2="247.70000000000002" stroke="#4c4c4c" stroke-width="1.45"/>
<line x1="550.60" y1="20.8" x2="550.60" y2="18.20" stroke="#4c4c4c" stroke-width="1.45"/>
<line x1="570.60" y1="245.70000000000002" x2="570.60" y2="249.70000000000002" stroke="#4c4c4c" stroke-width="1.45"/>
<line x1="570.60" y1="20.8" x2="570.60" y2="16.20" stroke="#4c4c4c" stroke-width="1.45"/>
<line x1="590.60" y1="245.70000000000002" x2="590.60" y2="247.70000000000002" stroke="#4c4c4c" stroke-width="1.45"/>
<line x1="590.60" y1="20.8" x2="590.60" y2="18.20" stroke="#4c4c4c" stroke-width="1.45"/>
<line x1="610.60" y1="245.70000000000002" x2="610.60" y2="249.70000000000002" stroke="#4c4c4c" stroke-width="1.45"/>
<line x1="610.60" y1="20.8" x2="610.60" y2="16.20" stroke="#4c4c4c" stroke-width="1.45"/>
<line x1="630.60" y1="245.70000000000002" x2="630.60" y2="247.70000000000002" stroke="#4c4c4c" stroke-width="1.45"/>
<line x1="630.60" y1="20.8" x2="630.60" y2="18.20" stroke="#4c4c4c" stroke-width="1.45"/>
<line x1="650.60" y1="245.70000000000002" x2="650.60" y2="249.70000000000002" stroke="#4c4c4c" stroke-width="1.45"/>
<line x1="650.60" y1="20.8" x2="650.60" y2="16.20" stroke="#4c4c4c" stroke-width="1.45"/>
<line x1="386.8" y1="245.30" x2="391" y2="245.30" stroke="#4c4c4c" stroke-width="1.45"/>
<line x1="671" y1="245.30" x2="675.2" y2="245.30" stroke="#4c4c4c" stroke-width="1.45"/>
<line x1="386.8" y1="207.88" x2="391" y2="207.88" stroke="#4c4c4c" stroke-width="1.45"/>
<line x1="671" y1="207.88" x2="675.2" y2="207.88" stroke="#4c4c4c" stroke-width="1.45"/>
<line x1="386.8" y1="170.47" x2="391" y2="170.47" stroke="#4c4c4c" stroke-width="1.45"/>
<line x1="671" y1="170.47" x2="675.2" y2="170.47" stroke="#4c4c4c" stroke-width="1.45"/>
<line x1="386.8" y1="133.05" x2="391" y2="133.05" stroke="#4c4c4c" stroke-width="1.45"/>
<line x1="671" y1="133.05" x2="675.2" y2="133.05" stroke="#4c4c4c" stroke-width="1.45"/>
<line x1="386.8" y1="95.63" x2="391" y2="95.63" stroke="#4c4c4c" stroke-width="1.45"/>
<line x1="671" y1="95.63" x2="675.2" y2="95.63" stroke="#4c4c4c" stroke-width="1.45"/>
<line x1="386.8" y1="58.22" x2="391" y2="58.22" stroke="#4c4c4c" stroke-width="1.45"/>
<line x1="671" y1="58.22" x2="675.2" y2="58.22" stroke="#4c4c4c" stroke-width="1.45"/>
<line x1="386.8" y1="20.80" x2="391" y2="20.80" stroke="#4c4c4c" stroke-width="1.45"/>
<line x1="671" y1="20.80" x2="675.2" y2="20.80" stroke="#4c4c4c" stroke-width="1.45"/>
<line x1="388.8" y1="226.59" x2="391" y2="226.59" stroke="#4c4c4c" stroke-width="1.45"/>
<line x1="671" y1="226.59" x2="673.2" y2="226.59" stroke="#4c4c4c" stroke-width="1.45"/>
<line x1="388.8" y1="189.17" x2="391" y2="189.17" stroke="#4c4c4c" stroke-width="1.45"/>
<line x1="671" y1="189.17" x2="673.2" y2="189.17" stroke="#4c4c4c" stroke-width="1.45"/>
<line x1="388.8" y1="151.76" x2="391" y2="151.76" stroke="#4c4c4c" stroke-width="1.45"/>
<line x1="671" y1="151.76" x2="673.2" y2="151.76" stroke="#4c4c4c" stroke-width="1.45"/>
<line x1="388.8" y1="114.34" x2="391" y2="114.34" stroke="#4c4c4c" stroke-width="1.45"/>
<line x1="671" y1="114.34" x2="673.2" y2="114.34" stroke="#4c4c4c" stroke-width="1.45"/>
<line x1="388.8" y1="76.92" x2="391" y2="76.92" stroke="#4c4c4c" stroke-width="1.45"/>
<line x1="671" y1="76.92" x2="673.2" y2="76.92" stroke="#4c4c4c" stroke-width="1.45"/>
<line x1="388.8" y1="39.51" x2="391" y2="39.51" stroke="#4c4c4c" stroke-width="1.45"/>
<line x1="671" y1="39.51" x2="673.2" y2="39.51" stroke="#4c4c4c" stroke-width="1.45"/>
<text x="382.6" y="248.20" text-anchor="end" font-size="10" textLength="18.6" lengthAdjust="spacingAndGlyphs">0.70</text>
<text x="382.6" y="210.78" text-anchor="end" font-size="10" textLength="18.6" lengthAdjust="spacingAndGlyphs">0.75</text>
<text x="382.6" y="173.37" text-anchor="end" font-size="10" textLength="18.6" lengthAdjust="spacingAndGlyphs">0.80</text>
<text x="382.6" y="135.95" text-anchor="end" font-size="10" textLength="18.6" lengthAdjust="spacingAndGlyphs">0.85</text>
<text x="382.6" y="98.53" text-anchor="end" font-size="10" textLength="18.6" lengthAdjust="spacingAndGlyphs">0.90</text>
<text x="382.6" y="61.12" text-anchor="end" font-size="10" textLength="18.6" lengthAdjust="spacingAndGlyphs">0.95</text>
<text x="382.6" y="23.70" text-anchor="end" font-size="10" textLength="18.6" lengthAdjust="spacingAndGlyphs">1.00</text>
<text x="411.00" y="260.2" text-anchor="middle" font-size="10">2</text>
<text x="451.00" y="260.2" text-anchor="middle" font-size="10">4</text>
<text x="491.00" y="260.2" text-anchor="middle" font-size="10">6</text>
<text x="531.00" y="260.2" text-anchor="middle" font-size="10">8</text>
<text x="571.00" y="260.2" text-anchor="middle" font-size="10">10</text>
<text x="611.00" y="260.2" text-anchor="middle" font-size="10">12</text>
<text x="651.00" y="260.2" text-anchor="middle" font-size="10">14</text>
<text x="531.00" y="277.1" text-anchor="middle" font-size="10.6">Number of features</text>
<text transform="translate(360.3,133.05) rotate(-90)" x="0" y="0" text-anchor="middle" font-size="10.6">RMSE (kcal/mol)</text>
<text x="353.1" y="9.7" font-size="13.0" style="stroke-width:0">(b)</text>
<rect x="606.4" y="29.6" width="52.1" height="52.7" fill="#fff" stroke="#6a6a6a" stroke-width="1"/>
<line x1="607.9" y1="37.10" x2="630.9" y2="37.10" stroke="#f59292" stroke-width="1.1"/>
<rect x="616.65" y="34.35" width="5.5" height="5.5" fill="#ee3434"/>
<text x="634.4" y="40.60" font-size="10.5">RF</text>
<line x1="607.9" y1="49.95" x2="630.9" y2="49.95" stroke="#93b9ee" stroke-width="1.1"/>
<circle cx="619.40" cy="49.95" r="3.0" fill="#1e6ade"/>
<text x="634.4" y="53.45" font-size="10.5">GBR</text>
<line x1="607.9" y1="62.80" x2="630.9" y2="62.80" stroke="#93cfa8" stroke-width="1.1"/>
<polygon points="615.90,65.20 622.90,65.20 619.40,59.30" fill="#2a9f5e"/>
<text x="634.4" y="66.30" font-size="10.5">SVR</text>
<line x1="607.9" y1="75.65" x2="630.9" y2="75.65" stroke="#c9a2f2" stroke-width="1.1"/>
<polygon points="615.90,73.25 622.90,73.25 619.40,79.15" fill="#a25fe4"/>
<text x="634.4" y="79.15" font-size="10.5">LR</text>
</svg></body></html>
